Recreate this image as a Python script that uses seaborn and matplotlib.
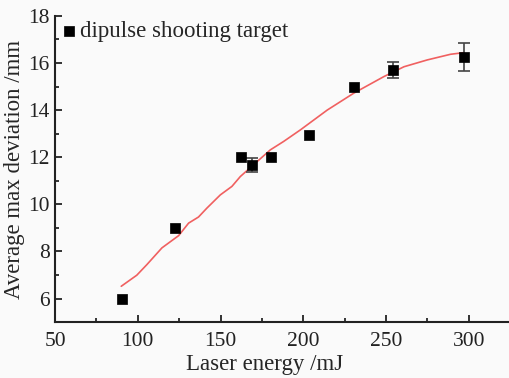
import numpy as np
import pandas as pd
import matplotlib
matplotlib.use("Agg")
import matplotlib.pyplot as plt
import seaborn as sns
from matplotlib.ticker import MultipleLocator

# measured points
energy = [90.7, 122.2, 162.4, 169.0, 180.6, 203.3, 230.8, 254.4, 297.4]
deviation = [6.0, 9.0, 12.0, 11.65, 12.0, 12.96, 14.97, 15.7, 16.24]
err = [0.0, 0.0, 0.0, 0.3, 0.0, 0.0, 0.0, 0.35, 0.59]

# fitted curve
fit_x = [90.0, 99.4, 105.5, 114.6, 124.7, 130.7, 136.7, 141.8, 149.9, 156.9,
         162.0, 170.0, 180.1, 188.2, 198.3, 214.5, 230.6, 248.7, 260.9, 275.0,
         289.1, 297.2]
fit_y = [6.52, 6.99, 7.44, 8.15, 8.67, 9.2, 9.46, 9.84, 10.4, 10.76,
         11.18, 11.68, 12.31, 12.67, 13.16, 14.0, 14.72, 15.42, 15.84, 16.13,
         16.37, 16.44]

sns.set_style("ticks")
plt.rcParams['font.family'] = ['Liberation Serif', 'DejaVu Serif']

fig = plt.figure(figsize=(5.1, 3.78), dpi=100, facecolor='#fafafa')
ax = fig.add_axes([0.108, 0.148, 0.892, 0.81])
ax.set_facecolor('#fafafa')

pts = pd.DataFrame({'energy': energy, 'deviation': deviation, 'err': err})
fit = pd.DataFrame({'x': fit_x, 'y': fit_y})

sns.lineplot(data=fit, x='x', y='y', ax=ax, color='#f06060', linewidth=1.2,
             sort=False, legend=False)
ebars = pts[pts['err'] > 0]
ax.errorbar(ebars['energy'], ebars['deviation'], yerr=ebars['err'], fmt='none',
            ecolor='#444444', elinewidth=1.2, capsize=4, capthick=1.2, zorder=3)
sns.scatterplot(data=pts, x='energy', y='deviation', ax=ax, marker='s', s=60,
                color='black', edgecolor='black', linewidth=0.5, zorder=4,
                label='dipulse shooting target')

ax.set_xlim(50, 325)
ax.set_ylim(5, 18)
ax.xaxis.set_major_locator(MultipleLocator(50))
ax.xaxis.set_minor_locator(MultipleLocator(25))
ax.yaxis.set_major_locator(MultipleLocator(2))
ax.yaxis.set_minor_locator(MultipleLocator(1))
ax.tick_params(axis='both', which='major', direction='in', length=5, width=1.3,
               labelsize=15.5, colors='#222222')
ax.tick_params(axis='x', which='major', pad=7)
ax.tick_params(axis='y', which='major', pad=4)
ax.tick_params(axis='both', which='minor', direction='in', length=3, width=1.3)
ax.set_yticks([6, 8, 10, 12, 14, 16, 18])

for s in ['top', 'right']:
    ax.spines[s].set_visible(False)
for s in ['left', 'bottom']:
    ax.spines[s].set_linewidth(1.5)
    ax.spines[s].set_color('#222222')

ax.set_xlabel('Laser energy /mJ', fontsize=16.5, labelpad=0)
ax.xaxis.set_label_coords(0.46, -0.105)
ax.set_ylabel('Average max deviation /mm', fontsize=16.5, labelpad=2)

leg = ax.legend(loc='upper left', frameon=False, fontsize=16.5, handletextpad=0.0,
                borderaxespad=0.0, borderpad=0.1, handlelength=1.0, markerscale=0.9,
                bbox_to_anchor=(0.0, 0.99))

fig.savefig('out.png', dpi=100, facecolor=fig.get_facecolor())
